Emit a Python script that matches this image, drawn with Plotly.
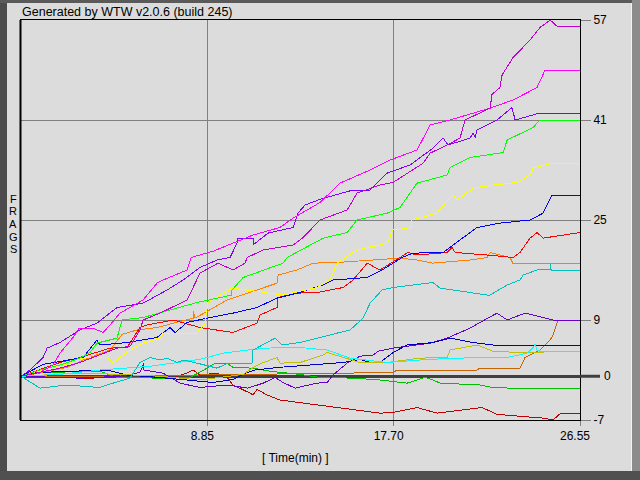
import plotly.graph_objects as go

# ---------------- data (time in minutes, frags) ----------------
t_dmag = [0, 0.90, 1.85, 2.80, 3.75, 4.56, 5.18, 5.65, 5.80, 6.60, 7.89, 8.36, 8.50, 9.36, 10.07, 10.64, 10.74, 11.50, 12.92, 13.40, 14.20, 15.49, 15.96, 17.05, 17.67, 19.10, 19.43, 20.24, 20.85, 21.09, 21.80, 22.28, 22.37, 22.75, 22.85, 23.37, 24.18, 24.65, 25.13, 25.46, 26.55]
f_dmag = [0, 0.6, 1.3, 2.2, 3.4, 4.5, 4.8, 7.4, 9.0, 10.1, 12.2, 15.4, 16.5, 18.1, 17.0, 18.1, 19.0, 20.2, 21.0, 22.2, 25.0, 26.6, 29.3, 30.6, 31.0, 34.1, 35.7, 37.0, 38.1, 41.0, 42.1, 42.9, 45.1, 46.2, 48.2, 51.0, 53.8, 55.8, 57.0, 56.0, 56.0]

t_mag = [0, 0.90, 1.52, 1.85, 2.47, 2.76, 3.42, 3.90, 4.23, 4.70, 5.80, 6.46, 6.75, 7.89, 8.08, 9.12, 11.02, 12.30, 12.92, 14.20, 15.15, 16.58, 17.53, 18.81, 19.43, 20.38, 22.28, 23.37, 24.51, 24.89, 26.55]
f_mag = [0, 0.6, 1.8, 3.7, 6.2, 7.7, 7.7, 7.0, 8.2, 10.1, 12.2, 14.9, 15.4, 17.0, 19.0, 20.0, 22.6, 23.8, 25.3, 27.8, 30.9, 33.0, 34.6, 36.2, 40.2, 41.0, 42.9, 44.2, 46.2, 49.0, 49.0]

t_vio = [0, 0.43, 1.05, 1.24, 1.85, 2.80, 3.61, 4.56, 5.80, 6.94, 7.70, 8.50, 9.31, 9.93, 10.26, 10.31, 11.02, 11.02, 11.73, 12.92, 13.16, 13.49, 14.20, 15.77, 16.58, 17.15, 17.39, 18.48, 18.95, 19.57, 20.05, 20.28, 21.33, 21.47, 21.57, 21.66, 22.61, 23.32, 23.47, 24.51, 26.55]
f_vio = [0, 1.0, 3.0, 4.5, 5.4, 7.4, 8.5, 11.0, 11.7, 13.8, 15.4, 17.4, 18.6, 19.0, 21.3, 22.1, 22.1, 21.0, 22.9, 23.8, 26.1, 27.4, 28.3, 29.8, 29.8, 31.7, 32.5, 33.8, 35.0, 36.5, 38.1, 37.0, 38.1, 38.9, 38.2, 39.4, 41.0, 43.0, 41.0, 42.0, 42.0]

t_grn = [0, 0.90, 1.85, 2.80, 3.28, 3.61, 4.56, 4.80, 5.80, 8.36, 10.02, 10.02, 10.55, 12.45, 12.64, 14.35, 15.49, 15.96, 17.39, 18.00, 18.81, 20.24, 20.38, 21.33, 22.90, 23.09, 24.32, 24.65, 26.55]
f_grn = [0, 1.0, 1.8, 2.9, 3.8, 5.3, 6.1, 9.0, 9.4, 11.8, 13.0, 13.8, 15.8, 18.1, 19.0, 22.1, 23.0, 25.0, 26.1, 27.0, 30.9, 32.2, 33.4, 35.0, 35.8, 37.8, 39.8, 41.0, 41.0]

t_yel = [0, 1.24, 2.19, 2.80, 4.09, 4.37, 4.70, 5.18, 5.80, 6.60, 6.75, 8.36, 8.74, 8.88, 10.02, 12.45, 14.06, 14.68, 15.01, 15.96, 17.39, 17.67, 18.57, 18.57, 19.76, 20.14, 20.52, 20.71, 21.47, 22.42, 23.56, 24.18, 24.32, 25.13, 26.55]
f_yel = [0, 1.3, 1.9, 2.9, 3.0, 2.2, 3.0, 4.2, 5.3, 6.2, 6.9, 6.9, 8.5, 11.8, 14.1, 13.0, 14.2, 15.4, 18.1, 20.2, 21.3, 23.4, 23.8, 25.0, 26.1, 27.7, 29.0, 28.2, 30.1, 30.6, 31.0, 32.2, 33.3, 34.0, 34.0]

t_blu = [0, 1.05, 2.95, 3.28, 3.61, 3.75, 5.04, 6.46, 6.75, 7.08, 7.32, 7.89, 8.84, 10.07, 11.21, 12.16, 13.11, 14.35, 14.82, 16.44, 17.15, 18.10, 18.62, 20.05, 20.52, 21.19, 21.66, 22.75, 24.18, 24.80, 25.22, 26.55]
f_blu = [0, 1.9, 3.0, 4.5, 5.8, 5.0, 5.4, 6.2, 6.9, 7.8, 7.0, 8.6, 9.3, 10.1, 11.0, 12.5, 13.3, 14.6, 15.4, 15.8, 17.0, 19.0, 19.7, 19.8, 21.0, 22.6, 23.8, 24.5, 25.0, 26.1, 29.0, 29.0]

t_red = [0, 1.85, 2.80, 3.42, 4.23, 5.04, 5.65, 5.99, 7.22, 8.50, 10.07, 11.21, 11.35, 12.16, 12.21, 13.11, 14.06, 15.30, 15.77, 16.25, 16.44, 17.05, 18.00, 18.38, 18.81, 20.24, 20.47, 20.62, 22.14, 23.37, 23.70, 24.18, 24.51, 24.80, 26.55]
f_red = [0, 2.2, 3.0, 3.7, 4.5, 4.6, 7.8, 8.2, 9.0, 7.8, 7.0, 8.5, 9.8, 11.0, 12.6, 13.3, 13.4, 14.2, 15.4, 17.3, 18.1, 17.0, 19.0, 19.8, 19.4, 19.8, 20.6, 19.8, 19.4, 19.0, 19.8, 22.1, 23.0, 22.1, 23.0]

t_org = [0, 2.19, 2.95, 4.23, 4.80, 5.51, 6.46, 7.22, 8.17, 8.17, 8.27, 9.79, 12.16, 12.21, 13.11, 13.87, 15.01, 18.00, 18.81, 19.57, 21.33, 22.14, 22.28, 23.23, 23.37, 26.55]
f_org = [0, 1.4, 2.6, 4.2, 6.7, 7.4, 7.8, 8.5, 9.3, 10.4, 9.3, 12.2, 14.9, 16.2, 17.0, 18.1, 18.2, 18.9, 18.6, 18.1, 18.6, 19.0, 19.8, 19.0, 18.0, 18.0]

t_dcy = [0, 0.90, 2.19, 3.75, 4.37, 5.18, 5.65, 6.13, 6.60, 6.94, 7.41, 7.70, 8.36, 9.31, 9.83, 10.97, 11.02, 11.59, 12.07, 12.40, 13.25, 15.01, 15.63, 16.25, 16.58, 17.15, 17.67, 19.57, 19.90, 22.14, 22.28, 23.09, 23.70, 23.85, 24.51, 25.13, 25.13, 25.18, 26.55]
f_dcy = [0, -1.9, -1.4, -1.8, -1.1, -0.3, 2.2, 3.0, 2.6, 2.9, 2.2, 2.6, 2.1, 1.3, 2.1, 2.1, 4.2, 5.3, 6.1, 5.0, 5.4, 6.9, 7.4, 9.3, 11.7, 13.8, 14.2, 15.0, 14.1, 13.0, 13.0, 14.6, 15.4, 16.2, 17.0, 17.1, 18.1, 17.0, 17.0]

t_cya = [0, 1.85, 3.75, 6.13, 8.50, 9.60, 11.02, 12.16, 13.25, 14.54, 15.63, 17.39, 18.95, 20.52, 23.09, 24.04, 24.32, 24.42, 24.51, 24.65, 26.55]
f_cya = [0, 0.3, 1.0, 1.6, 2.7, 3.7, 4.3, 4.6, 4.6, 4.2, 2.9, 2.2, 2.6, 2.9, 3.0, 3.7, 4.6, 5.1, 4.2, 4.0, 4.0]

t_olv = [0, 2.80, 4.70, 6.60, 8.50, 10.55, 11.12, 11.45, 12.16, 12.30, 13.25, 14.35, 14.54, 15.30, 16.10, 17.39, 18.95, 20.24, 20.38, 21.66, 22.42, 23.70, 26.55]
f_olv = [0, 0.5, 0.3, 0, -0.6, 0.3, 1.6, 2.1, 3.0, 2.1, 2.2, 3.4, 3.8, 3.0, 2.2, 2.2, 2.9, 3.0, 4.2, 5.0, 4.0, 3.8, 4.0]

t_nav = [0, 0.76, 4.09, 5.04, 6.60, 8.50, 9.12, 10.07, 10.74, 11.12, 12.16, 13.73, 15.30, 16.10, 16.58, 17.05, 17.67, 18.34, 19.57, 20.38, 21.47, 22.42, 26.55]
f_nav = [0, 0.6, 1.0, 0.2, -0.2, -0.8, -1.0, -0.5, 0.6, 1.0, 1.4, 1.8, 2.2, 2.7, 2.2, 2.2, 3.8, 5.0, 5.4, 6.1, 5.4, 5.0, 5.0]

t_pur = [0, 2.80, 4.70, 5.65, 5.84, 5.84, 6.75, 7.55, 8.50, 9.79, 10.78, 11.50, 12.07, 12.45, 13.02, 14.06, 14.54, 14.82, 15.49, 16.10, 16.72, 16.96, 17.67, 19.43, 20.24, 21.33, 21.80, 22.61, 23.09, 23.94, 25.27, 26.55]
f_pur = [0, -0.3, 0, 0.6, 2.1, 1.0, 0.5, -1.1, -1.8, -1.4, -1.9, -1.1, -0.2, -1.0, -1.9, -1.1, -1.0, 0.2, 2.1, 3.2, 3.4, 4.0, 4.5, 5.3, 6.1, 7.7, 8.6, 10.1, 9.0, 10.1, 9.0, 9.0]

t_dor = [0, 3.75, 8.50, 10.88, 17.67, 17.86, 21.66, 21.80, 23.70, 23.94, 24.32, 24.65, 25.13, 25.27, 25.51, 26.55]
f_dor = [0, 0, 0.2, 0.3, 0.6, 1.0, 1.0, 1.3, 1.3, 3.0, 3.7, 4.2, 5.8, 6.6, 9.0, 9.0]

t_dgr = [0, 1.05, 3.75, 4.56, 6.60, 8.03, 8.84, 9.22, 9.79, 10.07, 11.02, 11.83, 13.25, 14.20, 15.77, 17.05, 18.34, 18.81, 19.19, 19.57, 19.90, 21.80, 22.42, 24.04, 26.55]
f_dgr = [0, 0.6, 0.8, -0.2, -0.3, -0.2, 1.3, 2.1, 2.1, 1.4, 1.3, 0.8, 0.3, -0.2, -0.3, -0.6, -1.1, -0.6, -0.2, -0.6, -1.1, -1.4, -1.8, -2.0, -2.0]

t_drd = [0, 2.80, 6.13, 7.22, 7.89, 8.17, 8.50, 9.31, 9.79, 10.07, 10.88, 11.02, 11.21, 11.69, 12.30, 13.25, 14.20, 15.15, 17.05, 17.67, 18.81, 19.76, 21.47, 21.90, 22.61, 23.70, 24.80, 25.27, 25.60, 26.55]
f_drd = [0, -0.3, -0.2, -0.2, 0.5, 1.0, 0.2, 0.5, -0.2, -1.4, -2.7, -3.0, -2.1, -3.0, -3.8, -4.2, -4.6, -5.1, -5.9, -5.8, -5.0, -5.9, -5.1, -5.0, -6.1, -6.4, -6.7, -7.0, -6.0, -6.0]

y_ticks = [-7, 0, 9, 25, 41, 57]
y_tick_text = ["-7", "", "9", "25", "41", "57"]
x_ticks = [8.85, 17.70, 26.55]
x_tick_text = ["8.85", "17.70", "26.55"]

series = [
    (t_drd, f_drd, "#c00000"),
    (t_dgr, f_dgr, "#00c000"),
    (t_dor, f_dor, "#c86400"),
    (t_pur, f_pur, "#6600cc"),
    (t_nav, f_nav, "#0000c0"),
    (t_olv, f_olv, "#c0c000"),
    (t_cya, f_cya, "#00ffff"),
    (t_dcy, f_dcy, "#00c0c0"),
    (t_org, f_org, "#ff8000"),
    (t_red, f_red, "#ff0000"),
    (t_blu, f_blu, "#0000ff"),
    (t_yel, f_yel, "#ffff00"),
    (t_grn, f_grn, "#00ff00"),
    (t_vio, f_vio, "#8000ff"),
    (t_mag, f_mag, "#ff00ff"),
    (t_dmag, f_dmag, "#c000d0"),
]

FONT = "Liberation Sans, Arial, sans-serif"

fig = go.Figure()
for tx, fy, col in series:
    fig.add_trace(go.Scatter(x=tx, y=fy, mode="lines",
                             line=dict(color=col, width=1),
                             hoverinfo="skip", showlegend=False))

fig.update_layout(
    width=640, height=480,
    margin=dict(l=21, r=60, t=20, b=60),
    paper_bgcolor="#dcdcdc", plot_bgcolor="#dcdcdc",
    font=dict(family=FONT, size=12, color="black"),
    showlegend=False,
)

fig.update_xaxes(
    range=[0, 26.55], tickmode="array", tickvals=x_ticks, ticktext=x_tick_text,
    showgrid=True, gridcolor="#808080", gridwidth=1,
    ticks="outside", ticklen=5, tickcolor="#808080",
    showline=True, linecolor="black", linewidth=1, mirror=True,
    zeroline=False, tickfont=dict(size=12, color="black", family=FONT),
    ticklabelshift=-5,
)
fig.update_yaxes(
    range=[-7, 57], side="right", tickmode="array", tickvals=y_ticks,
    ticktext=y_tick_text,
    showgrid=True, gridcolor="#808080", gridwidth=1,
    ticks="outside", ticklen=10, tickcolor="#808080",
    showline=True, linecolor="black", linewidth=1, mirror=True,
    zeroline=True, zerolinecolor="#404040", zerolinewidth=3,
    tickfont=dict(size=12, color="black", family=FONT),
)

def px_x(px):
    return (px - 21) / 559.0

def px_y(py):
    return (420 - py) / 400.0

shapes = [
    dict(type="line", xref="paper", yref="y", x0=1, x1=px_x(600), y0=0, y1=0,
         line=dict(color="#404040", width=3)),
    dict(type="line", xref="paper", yref="paper", x0=px_x(20.5), x1=px_x(20.5), y0=0, y1=1,
         line=dict(color="black", width=2)),
    dict(type="rect", xref="paper", yref="paper", x0=px_x(0), x1=px_x(7), y0=px_y(480), y1=px_y(0),
         line=dict(width=0), fillcolor="#4c4c4c"),
    dict(type="rect", xref="paper", yref="paper", x0=px_x(0), x1=px_x(640), y0=px_y(3), y1=px_y(0),
         line=dict(width=0), fillcolor="#5a5a5a"),
    dict(type="rect", xref="paper", yref="paper", x0=px_x(0), x1=px_x(640), y0=px_y(480), y1=px_y(471),
         line=dict(width=0), fillcolor="#505050"),
    dict(type="rect", xref="paper", yref="paper", x0=px_x(632), x1=px_x(640), y0=px_y(471), y1=px_y(0),
         line=dict(width=0), fillcolor="#8c8c8c"),
    dict(type="rect", xref="paper", yref="paper", x0=px_x(631), x1=px_x(632), y0=px_y(471), y1=px_y(3),
         line=dict(width=0), fillcolor="#f4f4f4"),
]
fig.update_layout(shapes=shapes)

ann = [
    dict(text="Generated by WTW v2.0.6 (build 245)", xref="paper", yref="paper",
         x=px_x(20), y=px_y(12.5), xanchor="left", yanchor="middle", showarrow=False,
         font=dict(size=12.5, family=FONT, color="black")),
    dict(text="[ Time(min) ]", xref="paper", yref="paper",
         x=px_x(295), y=px_y(458), xanchor="center", yanchor="middle", showarrow=False,
         font=dict(size=12, family=FONT, color="black")),
    dict(text="0", xref="paper", yref="y", x=px_x(602), y=0, xanchor="left", yanchor="middle",
         showarrow=False, font=dict(size=12, family=FONT, color="black")),
]
for i, ch in enumerate("FRAGS"):
    ann.append(dict(text=ch, xref="paper", yref="paper", x=px_x(13), y=px_y(198.5 + 12.7 * i),
                    xanchor="center", yanchor="middle", showarrow=False,
                    font=dict(size=11, family=FONT, color="black")))
fig.update_layout(annotations=ann)

fig.write_html("out.html", config={"displayModeBar": False, "staticPlot": True})

# remove the browser's default page margin and render lines crisply like the original
with open("out.html", "r", encoding="utf-8") as fh:
    html = fh.read()
css = ("<style>html,body{margin:0;padding:0;overflow:hidden;background:#dcdcdc}"
       ".scatterlayer path,.gridlayer path,.zerolinelayer path{shape-rendering:crispEdges}</style>")
html = html.replace("<head>", "<head>" + css, 1)
with open("out.html", "w", encoding="utf-8") as fh:
    fh.write(html)
